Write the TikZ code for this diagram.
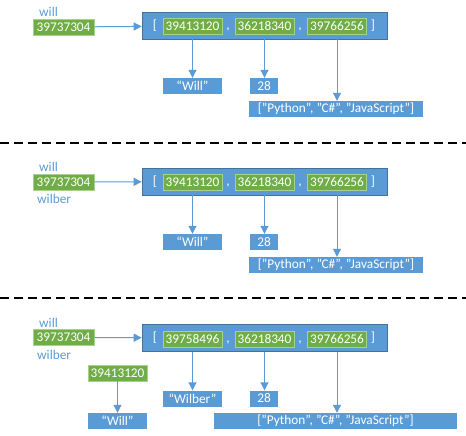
\documentclass[tikz,border=0pt]{standalone}
\usepackage{fontspec}
\setmainfont{Carlito}
\usepackage{xcolor}
\usepackage{tikz}
\usetikzlibrary{arrows.meta}

\definecolor{blu}{HTML}{5B9BD5}
\definecolor{bluedge}{HTML}{41719C}
\definecolor{grn}{HTML}{70AD47}
\definecolor{grnedge}{HTML}{A9D18E}

\tikzset{
    box/.style = {fill = blu, text = white, inner sep = 0pt, minimum height = 16pt,
        font = \fontsize{13.3}{15}\selectfont},
    addr/.style = {box, fill = grn, draw = grnedge, line width = 0.6pt, minimum width = 59pt},
    list/.style = {box, draw = bluedge, line width = 0.6pt, minimum width = 245pt, minimum height = 27pt},
    sym/.style = {text = white, inner sep = 0pt, font = \fontsize{13.3}{15}\selectfont},
    var/.style = {text = blu, inner sep = 0pt, anchor = west, font = \fontsize{13.3}{15}\selectfont},
    ptr/.style = {draw = blu, line width = 1pt, -{Triangle[length = 8pt, width = 8pt]}}
}

\begin{document}
\begin{tikzpicture}[x = 1pt, y = -1pt]
        \useasboundingbox (0, 0) rectangle (466, 436);

        % will
        \node[var] (v1) at (39, 12) {will};
        \node[addr, minimum width = 61pt] (a1) at (63.5, 27) {39737304};
        \node[list] (l1) at (264.5, 25.5) {};
        \node[sym] at (155, 25.5) {[};
        \node[addr] (e1a) at (192.5, 26.5) {39413120};
        \node[sym] at (228, 26.5) {\vphantom{0},};
        \node[addr] (e1b) at (264.5, 26.5) {36218340};
        \node[sym] at (300, 26.5) {\vphantom{0},};
        \node[addr] (e1c) at (337, 26.5) {39766256};
        \node[sym] at (373, 25.5) {]};
        \node[box, minimum width = 59pt] (s1) at (192.5, 86) {``Will''};
        \node[box, minimum width = 28pt] (n1) at (264, 86) {28};
        \node[box, minimum width = 174pt] (p1) at (336, 109) {["Python", "C\#", "JavaScript"]};
        \draw[ptr] (a1) -- (l1);
        \draw[ptr] (e1a.south |- l1.south) -- (s1);
        \draw[ptr] (e1b.south |- l1.south) -- (n1.north -| e1b.south);
        \draw[ptr] (e1c.south |- l1.south) -- (p1.north -| e1c.south);

        \draw[dashed, dash pattern = on 9pt off 5pt, line width = 1.2pt] (0, 143) -- (466, 143);

        % wilber = will
        \node[var] (v2) at (39, 167) {will};
        \node[var] (v2b) at (37, 199) {wilber};
        \node[addr, minimum width = 61pt] (a2) at (63.5, 182) {39737304};
        \node[list] (l2) at (264.5, 181.5) {};
        \node[sym] at (155, 181.5) {[};
        \node[addr] (e2a) at (192.5, 182.5) {39413120};
        \node[sym] at (228, 182.5) {\vphantom{0},};
        \node[addr] (e2b) at (264.5, 182.5) {36218340};
        \node[sym] at (300, 182.5) {\vphantom{0},};
        \node[addr] (e2c) at (337, 182.5) {39766256};
        \node[sym] at (373, 181.5) {]};
        \node[box, minimum width = 59pt] (s2) at (192.5, 242) {``Will''};
        \node[box, minimum width = 28pt] (n2) at (264, 242) {28};
        \node[box, minimum width = 174pt] (p2) at (336, 265) {["Python", "C\#", "JavaScript"]};
        \draw[ptr] (a2) -- (l2);
        \draw[ptr] (e2a.south |- l2.south) -- (s2);
        \draw[ptr] (e2b.south |- l2.south) -- (n2.north -| e2b.south);
        \draw[ptr] (e2c.south |- l2.south) -- (p2.north -| e2c.south);

        \draw[dashed, dash pattern = on 9pt off 5pt, line width = 1.2pt] (0, 298) -- (466, 298);

        % wilber[0] = "Wilber"
        \node[var] (v3) at (39, 323) {will};
        \node[var] (v3b) at (37, 355) {wilber};
        \node[addr, minimum width = 61pt] (a3) at (63.5, 337.5) {39737304};
        \node[list] (l3) at (264.5, 338) {};
        \node[sym] at (155, 338) {[};
        \node[addr] (e3a) at (192.5, 339) {39758496};
        \node[sym] at (228, 339) {\vphantom{0},};
        \node[addr] (e3b) at (264.5, 339) {36218340};
        \node[sym] at (300, 339) {\vphantom{0},};
        \node[addr] (e3c) at (337, 339) {39766256};
        \node[sym] at (373, 338) {]};
        \node[addr] (o3) at (117.5, 373) {39413120};
        \node[box, minimum width = 59pt] (w3) at (117.5, 421) {``Will''};
        \node[box, minimum width = 59pt] (s3) at (192.5, 398.5) {``Wilber''};
        \node[box, minimum width = 28pt] (n3) at (264, 398.5) {28};
        \node[box, minimum width = 243pt] (p3) at (335.5, 421) {["Python", "C\#", "JavaScript"]};
        \draw[ptr] (a3) -- (l3);
        \draw[ptr] (o3) -- (w3);
        \draw[ptr] (e3a.south |- l3.south) -- (s3);
        \draw[ptr] (e3b.south |- l3.south) -- (n3.north -| e3b.south);
        \draw[ptr] (e3c.south |- l3.south) -- (p3.north -| e3c.south);
    \end{tikzpicture}
\end{document}
